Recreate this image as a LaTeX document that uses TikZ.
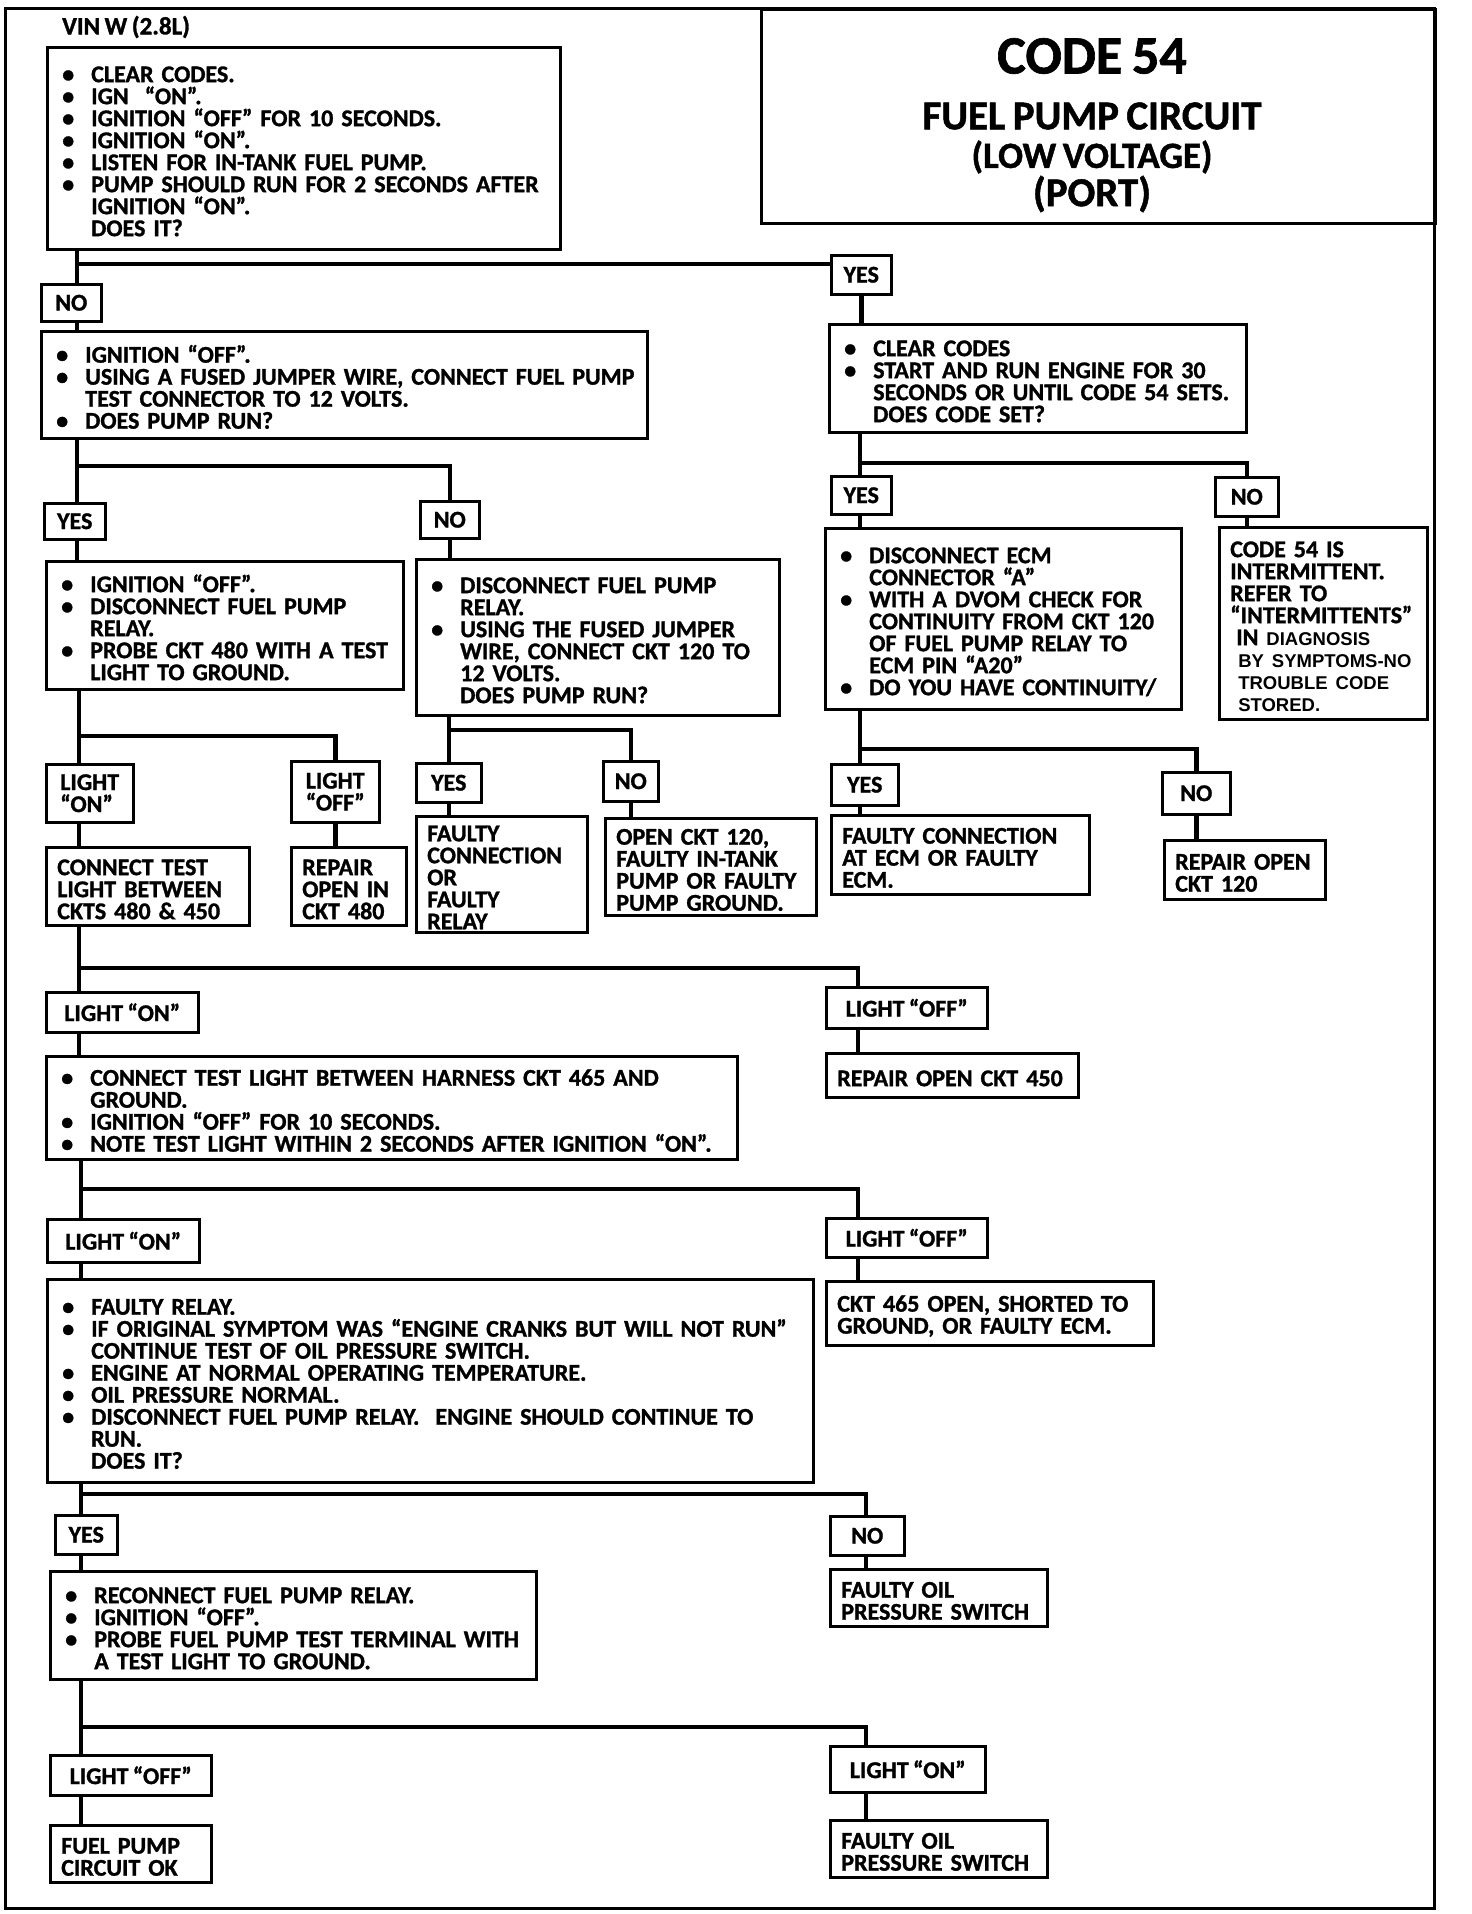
\documentclass[tikz,border=0pt]{standalone}
\usepackage{graphicx}
\usepackage{fontspec}
\setmainfont{Carlito}[WordSpace=0.8, BoldFeatures={FakeBold=1.2}]
\newfontfamily\arialfont{Liberation Sans}
\lineskiplimit=-100pt
\lineskip=0pt
\newcommand\bl[1]{\par\hbox{\makebox[33pt][l]{\hspace{4pt}\textbullet}#1}}
\newcommand\il[1]{\par\hbox{\hspace{33pt}#1}}
\newcommand\tl[1]{\par\hbox{#1}}
\newcommand\mybox[7][]{%
  \pgfmathsetmacro\bw{#5-#3}%
  \pgfmathsetmacro\bh{#6-#4}%
  \pgfmathsetmacro\tw{#5-#3-22}%
  \node[box, minimum width=\bw pt, minimum height=\bh pt, text width=\tw pt, #1] (#2) at (#3,#4) {#7};%
}
\newcommand\mylbl[7][]{%
  \pgfmathsetmacro\bw{#5-#3}%
  \pgfmathsetmacro\bh{#6-#4}%
  \node[lbl, minimum width=\bw pt, minimum height=\bh pt, #1] (#2) at (#3,#4) {#7};%
}
\begin{document}
\begin{tikzpicture}[x=1pt,y=-1pt,
  box/.style={draw, line width=2.5pt, anchor=north west, inner xsep=11pt, inner ysep=0pt,
    font=\bfseries\fontsize{24}{22}\selectfont},
  lbl/.style={draw, line width=2.5pt, anchor=north west, inner sep=0pt, align=left,
    font=\bfseries\fontsize{24}{22}\selectfont},
  conn/.style={line width=4.5pt},
  ttl/.style={inner sep=0pt, font=\bfseries}
]
\useasboundingbox (0,0) rectangle (1472,1914);
\fill[white] (0,0) rectangle (1472,1914);
\draw[line width=3pt] (5,8) rectangle (1434,1908);

% title
\node[draw, line width=2.5pt, anchor=north west, minimum width=674pt, minimum height=214pt, inner sep=0pt] (title) at (760,8) {};
\node[ttl, font=\bfseries\fontsize{54}{54}\selectfont] (t1) at (1092,56) {CODE 54};
\node[ttl, font=\bfseries\fontsize{41}{41}\selectfont] (t2) at (1092,116) {FUEL PUMP CIRCUIT};
\node[ttl, font=\bfseries\fontsize{37}{37}\selectfont] (t3) at (1092,157) {(LOW VOLTAGE)};
\node[ttl, font=\bfseries\fontsize{41}{41}\selectfont] (t4) at (1092,194) {(PORT)};
\node[anchor=west, inner sep=0pt, font=\bfseries\fontsize{25}{25}\selectfont] (vin) at (62,27) {VIN W (2.8L)};

% boxes
\mybox{A}{46}{46}{559}{248}{%
\bl{CLEAR CODES.}
\bl{IGN\ \ “ON”.}
\bl{IGNITION “OFF” FOR 10 SECONDS.}
\bl{IGNITION “ON”.}
\bl{LISTEN FOR IN-TANK FUEL PUMP.}
\bl{PUMP SHOULD RUN FOR 2 SECONDS AFTER}
\il{IGNITION “ON”.}
\il{DOES IT?}}
\mylbl{noA}{40}{283}{100}{320}{NO}
\mylbl{yesA}{830}{254}{890}{293}{YES}
\mybox{B}{40}{330}{646}{437}{%
\bl{IGNITION “OFF”.}
\bl{USING A FUSED JUMPER WIRE, CONNECT FUEL PUMP}
\il{TEST CONNECTOR TO 12 VOLTS.}
\bl{DOES PUMP RUN?}}
\mybox{E}{828}{323}{1245}{431}{%
\bl{CLEAR CODES}
\bl{START AND RUN ENGINE FOR 30}
\il{SECONDS OR UNTIL CODE 54 SETS.}
\il{DOES CODE SET?}}
\mylbl{yesB}{43}{502}{104}{538}{YES}
\mylbl{noB}{419}{500}{478}{537}{NO}
\mybox{C}{45}{560}{402}{688}{%
\bl{IGNITION “OFF”.}
\bl{DISCONNECT FUEL PUMP}
\il{RELAY.}
\bl{PROBE CKT 480 WITH A TEST}
\il{LIGHT TO GROUND.}}
\mybox{D}{415}{558}{778}{714}{%
\bl{DISCONNECT FUEL PUMP}
\il{RELAY.}
\bl{USING THE FUSED JUMPER}
\il{WIRE, CONNECT CKT 120 TO}
\il{12 VOLTS.}
\il{DOES PUMP RUN?}}
\mylbl{lonC}{45}{763}{132}{821}{LIGHT\\“ON”}
\mylbl{loffC}{290}{760}{378}{821}{LIGHT\\“OFF”}
\mybox{ctC}{45}{846}{248}{924}{%
\tl{CONNECT TEST}
\tl{LIGHT BETWEEN}
\tl{CKTS 480 \& 450}}
\mybox{rpC}{290}{846}{405}{924}{%
\tl{REPAIR}
\tl{OPEN IN}
\tl{CKT 480}}
\mylbl{yesD}{415}{762}{480}{801}{YES}
\mylbl{noD}{602}{760}{657}{800}{NO}
\mybox{fcD}{415}{815}{586}{931}{%
\tl{FAULTY}
\tl{CONNECTION}
\tl{OR}
\tl{FAULTY}
\tl{RELAY}}
\mybox{ocD}{604}{817}{815}{914}{%
\tl{OPEN CKT 120,}
\tl{FAULTY IN-TANK}
\tl{PUMP OR FAULTY}
\tl{PUMP GROUND.}}
\mylbl{yesE}{830}{475}{890}{513}{YES}
\mylbl{noE}{1214}{476}{1277}{515}{NO}
\mybox{F}{824}{527}{1180}{708}{%
\bl{DISCONNECT ECM}
\il{CONNECTOR “A”}
\bl{WITH A DVOM CHECK FOR}
\il{CONTINUITY FROM CKT 120}
\il{OF FUEL PUMP RELAY TO}
\il{ECM PIN “A20”}
\bl{DO YOU HAVE CONTINUITY/}}
\mybox{G}{1218}{526}{1426}{718}{%
\tl{CODE 54 IS}
\tl{INTERMITTENT.}
\tl{REFER TO}
\tl{“INTERMITTENTS”}
\tl{\hspace{6pt}IN\ {\arialfont\fontsize{18.5}{18}\selectfont DIAGNOSIS}}
\tl{\hspace{8pt}{\arialfont\fontsize{18.5}{18}\selectfont BY SYMPTOMS-NO}}
\tl{\hspace{8pt}{\arialfont\fontsize{18.5}{18}\selectfont TROUBLE CODE}}
\tl{\hspace{8pt}{\arialfont\fontsize{18.5}{18}\selectfont STORED.}}}
\mylbl{yesF}{830}{763}{897}{804}{YES}
\mylbl{noF}{1161}{771}{1229}{813}{NO}
\mybox{fcF}{830}{814}{1088}{893}{%
\tl{FAULTY CONNECTION}
\tl{AT ECM OR FAULTY}
\tl{ECM.}}
\mybox{roF}{1163}{839}{1324}{898}{%
\tl{REPAIR OPEN}
\tl{CKT 120}}
\mylbl{lon1}{45}{991}{197}{1031}{LIGHT “ON”}
\mylbl{loff1}{825}{986}{986}{1027}{LIGHT “OFF”}
\mybox{H}{45}{1055}{736}{1158}{%
\bl{CONNECT TEST LIGHT BETWEEN HARNESS CKT 465 AND}
\il{GROUND.}
\bl{IGNITION “OFF” FOR 10 SECONDS.}
\bl{NOTE TEST LIGHT WITHIN 2 SECONDS AFTER IGNITION “ON”.}}
\mybox{r450}{825}{1052}{1077}{1096}{\tl{REPAIR OPEN CKT 450}}
\mylbl{lon2}{46}{1218}{198}{1261}{LIGHT “ON”}
\mylbl{loff2}{825}{1217}{986}{1256}{LIGHT “OFF”}
\mybox{I}{46}{1278}{812}{1481}{%
\bl{FAULTY RELAY.}
\bl{IF ORIGINAL SYMPTOM WAS “ENGINE CRANKS BUT WILL NOT RUN”}
\il{CONTINUE TEST OF OIL PRESSURE SWITCH.}
\bl{ENGINE AT NORMAL OPERATING TEMPERATURE.}
\bl{OIL PRESSURE NORMAL.}
\bl{DISCONNECT FUEL PUMP RELAY.\ \ ENGINE SHOULD CONTINUE TO}
\il{RUN.}
\il{DOES IT?}}
\mybox{c465}{825}{1280}{1152}{1344}{%
\tl{CKT 465 OPEN, SHORTED TO}
\tl{GROUND, OR FAULTY ECM.}}
\mylbl{yesI}{54}{1514}{116}{1553}{YES}
\mylbl{noI}{829}{1515}{903}{1554}{NO}
\mybox{J}{49}{1570}{535}{1678}{%
\bl{RECONNECT FUEL PUMP RELAY.}
\bl{IGNITION “OFF”.}
\bl{PROBE FUEL PUMP TEST TERMINAL WITH}
\il{A TEST LIGHT TO GROUND.}}
\mybox{fop1}{829}{1568}{1046}{1625}{%
\tl{FAULTY OIL}
\tl{PRESSURE SWITCH}}
\mylbl{loffJ}{49}{1754}{210}{1794}{LIGHT “OFF”}
\mylbl{lonJ}{829}{1745}{984}{1791}{LIGHT “ON”}
\mybox{okJ}{49}{1824}{210}{1881}{%
\tl{FUEL PUMP}
\tl{CIRCUIT OK}}
\mybox{fop2}{829}{1819}{1046}{1876}{%
\tl{FAULTY OIL}
\tl{PRESSURE SWITCH}}

% junctions
\coordinate (j1) at (77,264);
\coordinate (jB) at (77,466);
\coordinate (jC) at (79,736);
\coordinate (jD) at (449,730);
\coordinate (jE) at (860,463);
\coordinate (jF) at (860,749);
\coordinate (jG) at (79,968);
\coordinate (jG2) at (858,968);
\coordinate (jH) at (81,1189);
\coordinate (jH2) at (858,1189);
\coordinate (jI) at (81,1494);
\coordinate (jI2) at (866,1494);
\coordinate (jJ) at (81,1727);
\coordinate (jJ2) at (866,1727);

% connectors
\draw[conn] (A.south -| j1) -- (noA.north -| j1);
\draw[conn] (j1) -- (yesA.west |- j1);
\draw[conn] (noA.south -| j1) -- (B.north -| j1);
\draw[conn] (yesA.south) -- (E.north -| yesA.south);

\draw[conn] (B.south -| jB) -- (yesB.north -| jB);
\draw[conn] (jB) -| (noB.north);
\draw[conn] (yesB.south -| jB) -- (C.north -| jB);
\draw[conn] (noB.south) -- (D.north -| noB.south);

\draw[conn] (C.south -| jC) -- (lonC.north -| jC);
\draw[conn] (jC) -| (loffC.north);
\draw[conn] (lonC.south -| jC) -- (ctC.north -| jC);
\draw[conn] (loffC.south) -- (rpC.north -| loffC.south);

\draw[conn] (D.south -| jD) -- (yesD.north -| jD);
\draw[conn] (jD) -| (noD.north);
\draw[conn] (yesD.south -| jD) -- (fcD.north -| jD);
\draw[conn] (noD.south) -- (ocD.north -| noD.south);

\draw[conn] (E.south -| jE) -- (yesE.north -| jE);
\draw[conn] (jE) -| (noE.north);
\draw[conn] (yesE.south -| jE) -- (F.north -| jE);
\draw[conn] (noE.south) -- (G.north -| noE.south);

\draw[conn] (F.south -| jF) -- (yesF.north -| jF);
\draw[conn] (jF) -| (noF.north);
\draw[conn] (yesF.south -| jF) -- (fcF.north -| jF);
\draw[conn] (noF.south) -- (roF.north -| noF.south);

\draw[conn] (ctC.south -| jG) -- (lon1.north -| jG);
\draw[conn] (jG) -- (jG2) -- (loff1.north -| jG2);
\draw[conn] (lon1.south -| jG) -- (H.north -| jG);
\draw[conn] (loff1.south -| jG2) -- (r450.north -| jG2);

\draw[conn] (H.south -| jH) -- (lon2.north -| jH);
\draw[conn] (jH) -- (jH2) -- (loff2.north -| jH2);
\draw[conn] (lon2.south -| jH) -- (I.north -| jH);
\draw[conn] (loff2.south -| jH2) -- (c465.north -| jH2);

\draw[conn] (I.south -| jI) -- (yesI.north -| jI);
\draw[conn] (jI) -- (jI2) -- (noI.north -| jI2);
\draw[conn] (yesI.south -| jI) -- (J.north -| jI);
\draw[conn] (noI.south -| jI2) -- (fop1.north -| jI2);

\draw[conn] (J.south -| jJ) -- (loffJ.north -| jJ);
\draw[conn] (jJ) -- (jJ2) -- (lonJ.north -| jJ2);
\draw[conn] (loffJ.south -| jJ) -- (okJ.north -| jJ);
\draw[conn] (lonJ.south -| jJ2) -- (fop2.north -| jJ2);
\end{tikzpicture}
\end{document}
